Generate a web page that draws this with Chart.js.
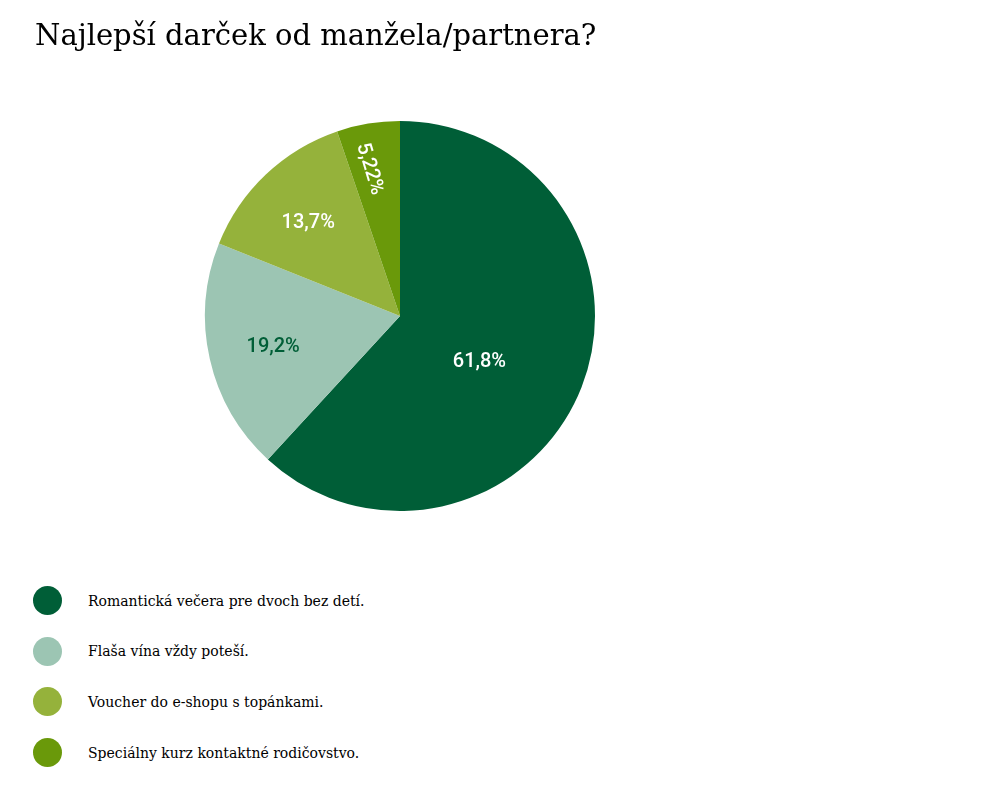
<!DOCTYPE html>
<html>
<head>
<meta charset="utf-8">
<script src="https://cdn.jsdelivr.net/npm/chart.js@4/dist/chart.umd.min.js"></script>
<style>
  body { margin: 0; background: #fff; }
  #wrap { position: relative; width: 800px; height: 530px; }
  #legend { list-style: none; margin: 0; padding: 0; position: absolute; left: 33px; top: 586px; }
  #legend li { display: flex; align-items: center; height: 29px; margin-bottom: 21.7px;
    font-family: "DejaVu Serif", serif; font-size: 14px; color: #000; }
  #legend span.dot { display: inline-block; width: 29px; height: 29px; border-radius: 50%; margin-right: 26px; }
</style>
</head>
<body>
<div id="wrap"><canvas id="pieChart"></canvas></div>
<ul id="legend"></ul>
<script>
const categories = [
  'Romantická večera pre dvoch bez detí.',
  'Flaša vína vždy poteší.',
  'Voucher do e-shopu s topánkami.',
  'Speciálny kurz kontaktné rodičovstvo.'
];
const values = [61.8, 19.2, 13.7, 5.22];
const valueLabels = ['61,8%', '19,2%', '13,7%', '5,22%'];
const colors = ['#005e37', '#9cc5b3', '#95b23b', '#6a990a'];
const labelColors = ['#ffffff', '#005e37', '#ffffff', '#ffffff'];

// draws the percentage inside each slice
const sliceLabels = {
    id: 'sliceLabels',
    afterDatasetsDraw(chart) {
        const ctx = chart.ctx;
        const meta = chart.getDatasetMeta(0);
        ctx.save();
        ctx.font = '500 20px Roboto';
        ctx.textAlign = 'center';
        ctx.textBaseline = 'middle';
        meta.data.forEach(function(arc, i) {
            const p = arc.getProps(['x', 'y', 'startAngle', 'endAngle', 'outerRadius']);
            const span = p.endAngle - p.startAngle;
            const mid = (p.startAngle + p.endAngle) / 2;
            let r = p.outerRadius * 0.67;
            let a = mid - 0.02;
            if (span > Math.PI) { r = p.outerRadius * 0.47; a = mid + 0.15; }
            if (span < 0.4) { r = p.outerRadius * 0.77; a = mid - 0.04; }
            ctx.save();
            ctx.translate(p.x + Math.cos(a) * r, p.y + Math.sin(a) * r);
            if (span < 0.4) ctx.rotate(mid - Math.PI - 0.13);
            ctx.fillStyle = labelColors[i];
            ctx.fillText(valueLabels[i], 0, 0);
            ctx.restore();
        });
        ctx.restore();
    }
};

new Chart(document.getElementById('pieChart').getContext('2d'), {
    type: 'pie',
    data: {
        labels: categories,
        datasets: [{
            data: values,
            backgroundColor: colors,
            borderWidth: 0
        }]
    },
    options: {
        responsive: true,
        maintainAspectRatio: false,
        animation: false,
        layout: { padding: { left: 35, right: 35, top: 20, bottom: 19 } },
        plugins: {
            legend: { display: false },
            tooltip: { enabled: false },
            title: {
                display: true,
                text: 'Najlepší darček od manžela/partnera?',
                align: 'start',
                color: '#000',
                font: { family: 'DejaVu Serif', size: 29, weight: 'normal' },
                padding: { top: 0, bottom: 66.2 }
            }
        }
    },
    plugins: [sliceLabels]
});

const legend = document.getElementById('legend');
categories.forEach(function(c, i) {
    const li = document.createElement('li');
    li.innerHTML = '<span class="dot" style="background:' + colors[i] + '"></span>' + c;
    legend.appendChild(li);
});
</script>
</body>
</html>
